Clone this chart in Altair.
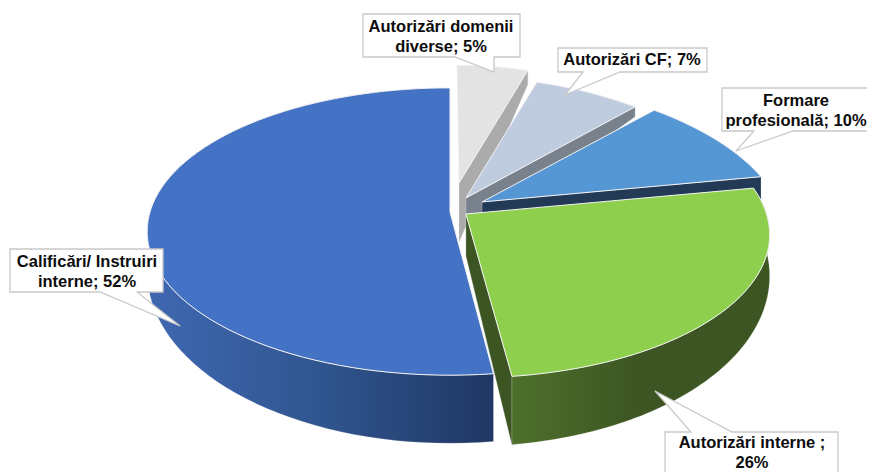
import math
import altair as alt

categories = ["Autorizări domenii diverse", "Autorizări CF", "Formare profesională",
              "Autorizări interne ", "Calificări/ Instruiri interne"]
shares = [5, 7, 10, 26, 52]

# --- drawing style -------------------------------------------------------
ORIGIN_X, ORIGIN_Y = 8, 8   # page margin
AX, AY = 450, 212
RX, RY, K = 300, 141, 0.136
style = [
    dict(top="#E3E3E3", wall="#ABABAB", du=0.031, dv=0.212, taper=0.10, apex_d=59, rim_d=14),
    dict(top="#BFCCDF", wall="#78818C", du=0.054, dv=0.101, taper=0.085, apex_d=40, rim_d=10),
    dict(top="#5596D5", wall="#223A56", du=0.108, dv=0.072, taper=0.06, apex_d=30, rim_d=24),
    dict(top="#8ED04E", wall="#3C5522", du=0.053, dv=-0.014, taper=0.0, apex_d=42, rim_d=69),
    dict(top="#4472C4", wall="#203864", du=0.0, dv=0.0, taper=0.0, apex_d=0, rim_d=68),
]
outer_wall = {3: ["#4E702C", "#3C5522", "#3C5522"], 4: ["#3F68B2", "#30558F", "#1F3763"]}
breaks = [2, 3, 1, 2, 2]
callouts = [
    dict(box=(363, 14, 520, 57), ptr=[(494, 57), (494, 72), (455, 57)], side="bottom", cx=441, ly=[27, 47]),
    dict(box=(558, 48, 707, 72), ptr=[(620, 72), (565, 95), (583, 72)], side="bottom", cx=632, ly=[60]),
    dict(box=(722, 88, 885, 131), ptr=[(793, 131), (736, 151), (754, 131)], side="bottom", cx=796, ly=[101, 121]),
    dict(box=(665, 432, 838, 485), ptr=[(691, 432), (655, 391), (732, 432)], side="top", cx=752, ly=[443, 463]),
    dict(box=(10, 249, 163, 292), ptr=[(137, 292), (180, 326), (100, 292)], side="bottom", cx=87, ly=[262, 282]),
]


# --- geometry derived from the shares -----------------------------------
def pt(t_deg, s):
    t = math.radians(t_deg)
    u = math.sin(t) + s["du"]
    v = math.cos(t) + s["dv"]
    w = 1 + K * v
    xf = 1 - s["taper"] * max(v, 0)
    return (AX + RX * u * xf / w, AY - RY * v / w)


def apex(s):
    v, u = s["dv"], s["du"]
    w = 1 + K * v
    return (AX + RX * u / w, AY - RY * v / w)


def depth(y):
    return 0.19 * (y - 17)


def shape(points, **mark):
    pts = [[x - ORIGIN_X, y - ORIGIN_Y] for x, y in points]
    pts.append(pts[0])
    feat = {"type": "Feature", "properties": {},
            "geometry": {"type": "Polygon", "coordinates": [pts]}}
    return alt.Chart(alt.Data(values=[feat])).mark_geoshape(clip=False, **mark).project(
        type="identity", scale=1, translate=[0, 0])


def grad(stops):
    n = len(stops) - 1
    return alt.Gradient(gradient="linear", x1=0, x2=1, y1=0, y2=0,
                        stops=[alt.GradientStop(offset=i / n, color=c) for i, c in enumerate(stops)])


layers = []
start = 0.0
for i, (val, s) in enumerate(zip(shares, style)):
    end = start + val * 3.6
    ts = [start + (end - start) * j / 80 for j in range(81)]
    rim = [pt(t, s) for t in ts]
    a = apex(s)
    if i < 4:
        c = pt(end, s)
        face = [a, c, (c[0], c[1] + s["rim_d"]), (a[0], a[1] + s["apex_d"])]
        layers.append(shape(face, fill=s["wall"], stroke="#D8D8D8", strokeWidth=0.5, strokeOpacity=0.6))
    if i in outer_wall:
        low = [(x, y + depth(y)) for x, y in rim]
        layers.append(shape(rim + low[::-1], fill=grad(outer_wall[i]),
                            stroke="#FFFFFF", strokeWidth=0.4, strokeOpacity=0.5))
    layers.append(shape([a] + rim, fill=s["top"], stroke="#F2F2F2", strokeWidth=1))
    start = end

text_rows = []
for i, (cat, val, c) in enumerate(zip(categories, shares, callouts)):
    x0, y0, x1, y1 = c["box"]
    if c["side"] == "bottom":
        outline = [(x0, y0), (x1, y0), (x1, y1)] + c["ptr"] + [(x0, y1)]
    else:
        outline = [(x0, y0)] + c["ptr"] + [(x1, y0), (x1, y1), (x0, y1)]
    layers.append(shape(outline, fill="#FFFFFF", stroke="#C9C9C9", strokeWidth=1.3))
    words = f"{cat}; {val}%".replace(" ;", "\u00a0;").split(" ")
    lines = [" ".join(words[:breaks[i]]).replace("\u00a0", " "), " ".join(words[breaks[i]:])]
    for line, y in zip([l for l in lines if l], c["ly"]):
        text_rows.append(dict(px=c["cx"] - ORIGIN_X, py=y - ORIGIN_Y, label=line))

labels = alt.Chart(alt.Data(values=text_rows)).mark_text(
    font="Liberation Sans", fontWeight="bold", fontSize=16.5, color="#0D0D0D",
    align="center", baseline="middle",
).encode(x=alt.X("px:Q", scale=None), y=alt.Y("py:Q", scale=None), text="label:N")
layers.append(labels)

chart = alt.layer(*layers).properties(
    width=859, height=470, padding=0, background="#FFFFFF",
    autosize=alt.AutoSizeParams(type="none"),
).configure_view(strokeWidth=0, stroke="#FFFFFF")

chart.save("out.html", embed_options={"renderer": "svg", "actions": False})
